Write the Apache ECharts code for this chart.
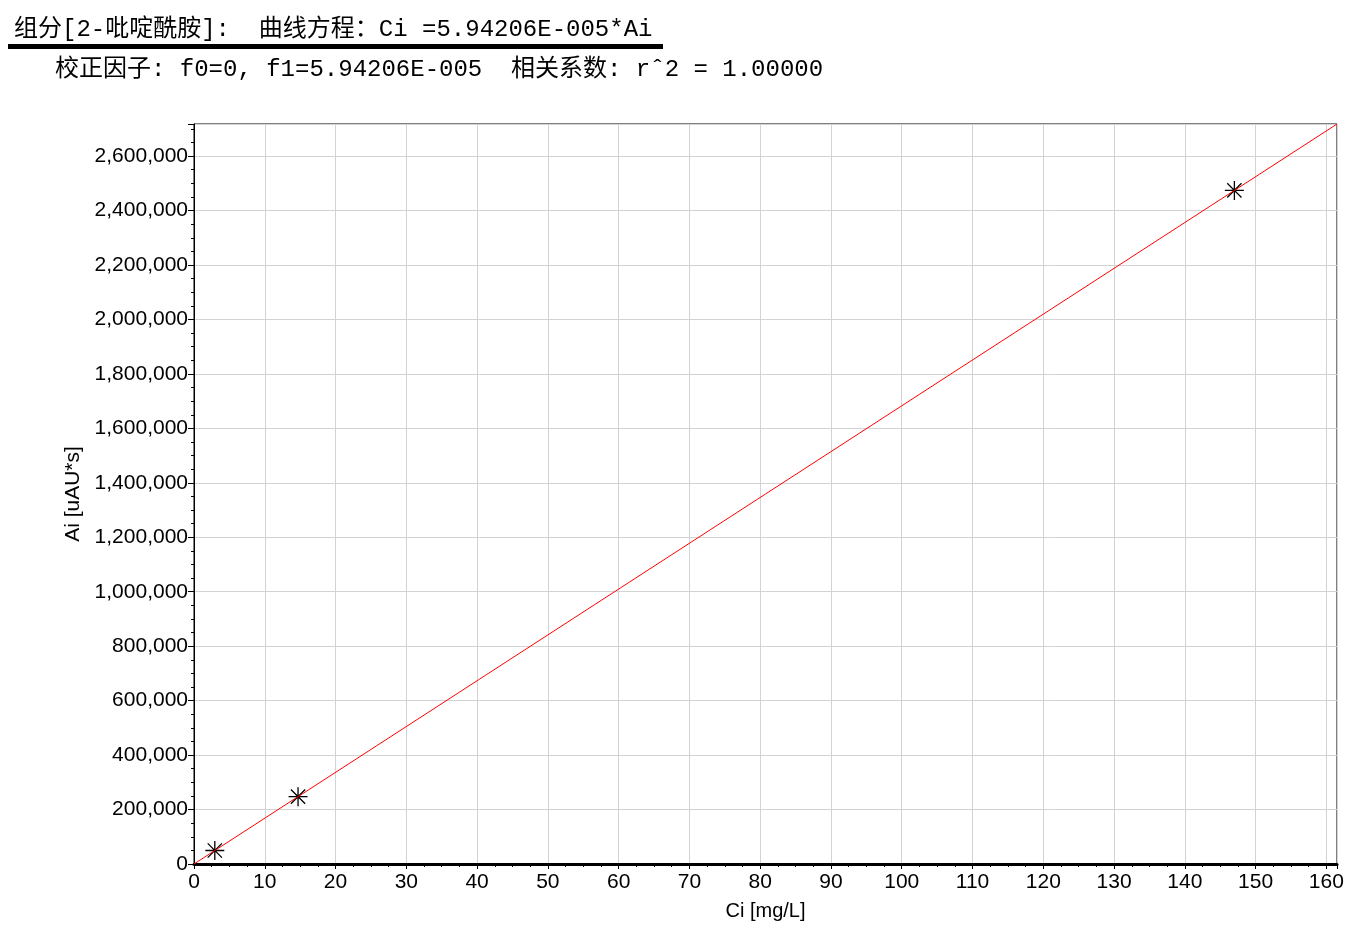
<!DOCTYPE html>
<html>
<head>
<meta charset="utf-8">
<script src="https://cdn.jsdelivr.net/npm/echarts@6/dist/echarts.min.js"></script>
<style>html,body{margin:0;padding:0;background:#fff}#c{width:1360px;height:926px}</style>
</head>
<body>
<div id="c"></div>
<script>
// Data
const pointsCi = [2.94, 14.7, 147];
const pointsAi = [49500, 247400, 2474000];
const fitCi = [0, 161.5];
const fitAi = [0, 2718000];
const titleLine1 = '组分[2-吡啶酰胺]:  曲线方程：Ci =5.94206E-005*Ai';
const titleLine2 = '校正因子: f0=0, f1=5.94206E-005  相关系数: rˆ2 = 1.00000';
const xName = 'Ci [mg/L]';
const yName = 'Ai [uAU*s]';

const chart = echarts.init(document.getElementById('c'));
const titleFont = "'Liberation Mono', 'Noto Sans CJK SC', monospace";
const axisFont = "'Liberation Sans', Arial, sans-serif";
const star = 'path://M0,-10L0,10M-10,0L10,0M-7.5,-7.5L7.5,7.5M-7.5,7.5L7.5,-7.5';

chart.setOption({
  animation: false,
  backgroundColor: '#fff',
  graphic: [
    {type: 'text', left: 14, top: 18, style: {text: titleLine1, font: '24px ' + titleFont, fill: '#000'}},
    {type: 'rect', shape: {x: 8, y: 44, width: 655, height: 5}, style: {fill: '#000'}},
    {type: 'text', left: 55, top: 58, style: {text: titleLine2, font: '24px ' + titleFont, fill: '#000'}}
  ],
  grid: {left: 194, right: 23, top: 124, bottom: 62, outerBoundsMode: 'none', containLabel: false,
    show: true, borderColor: '#000', borderWidth: 1, backgroundColor: 'transparent'},
  xAxis: {
    type: 'value', min: 0, max: 161.5, interval: 10,
    name: xName, nameLocation: 'middle', nameGap: 37,
    nameTextStyle: {fontFamily: axisFont, fontSize: 20, color: '#000'},
    axisLine: {show: true, lineStyle: {color: '#000', width: 3}},
    axisTick: {show: true, length: 5, lineStyle: {color: '#000'}},
    minorTick: {show: true, splitNumber: 4, length: 3, lineStyle: {color: '#000'}},
    axisLabel: {fontFamily: axisFont, fontSize: 21, color: '#000', margin: 8, showMaxLabel: false},
    splitLine: {show: true, lineStyle: {color: '#d3d3d3', width: 1}}
  },
  yAxis: {
    type: 'value', min: 0, max: 2718000, interval: 200000,
    name: yName, nameLocation: 'middle', nameGap: 107, nameRotate: 90,
    nameTextStyle: {fontFamily: axisFont, fontSize: 21, color: '#000'},
    axisLine: {show: true, lineStyle: {color: '#000', width: 1}},
    axisTick: {show: true, length: 6, lineStyle: {color: '#000'}},
    minorTick: {show: true, splitNumber: 4, length: 3, lineStyle: {color: '#000'}},
    axisLabel: {fontFamily: axisFont, fontSize: 21, color: '#000', margin: 6, showMaxLabel: false,
      formatter: v => v.toLocaleString('en-US')},
    splitLine: {show: true, lineStyle: {color: '#d3d3d3', width: 1}}
  },
  series: [
    {
      type: 'scatter', symbol: star, symbolSize: 19, z: 2,
      itemStyle: {color: 'transparent', borderColor: '#000', borderWidth: 1.3, opacity: 1},
      data: pointsCi.map((c, i) => [c, pointsAi[i]])
    },
    {
      type: 'line', showSymbol: false, symbol: 'none', z: 3,
      lineStyle: {color: '#ff0000', width: 1},
      data: fitCi.map((c, i) => [c, fitAi[i]])
    }
  ]
});
</script>
</body>
</html>
